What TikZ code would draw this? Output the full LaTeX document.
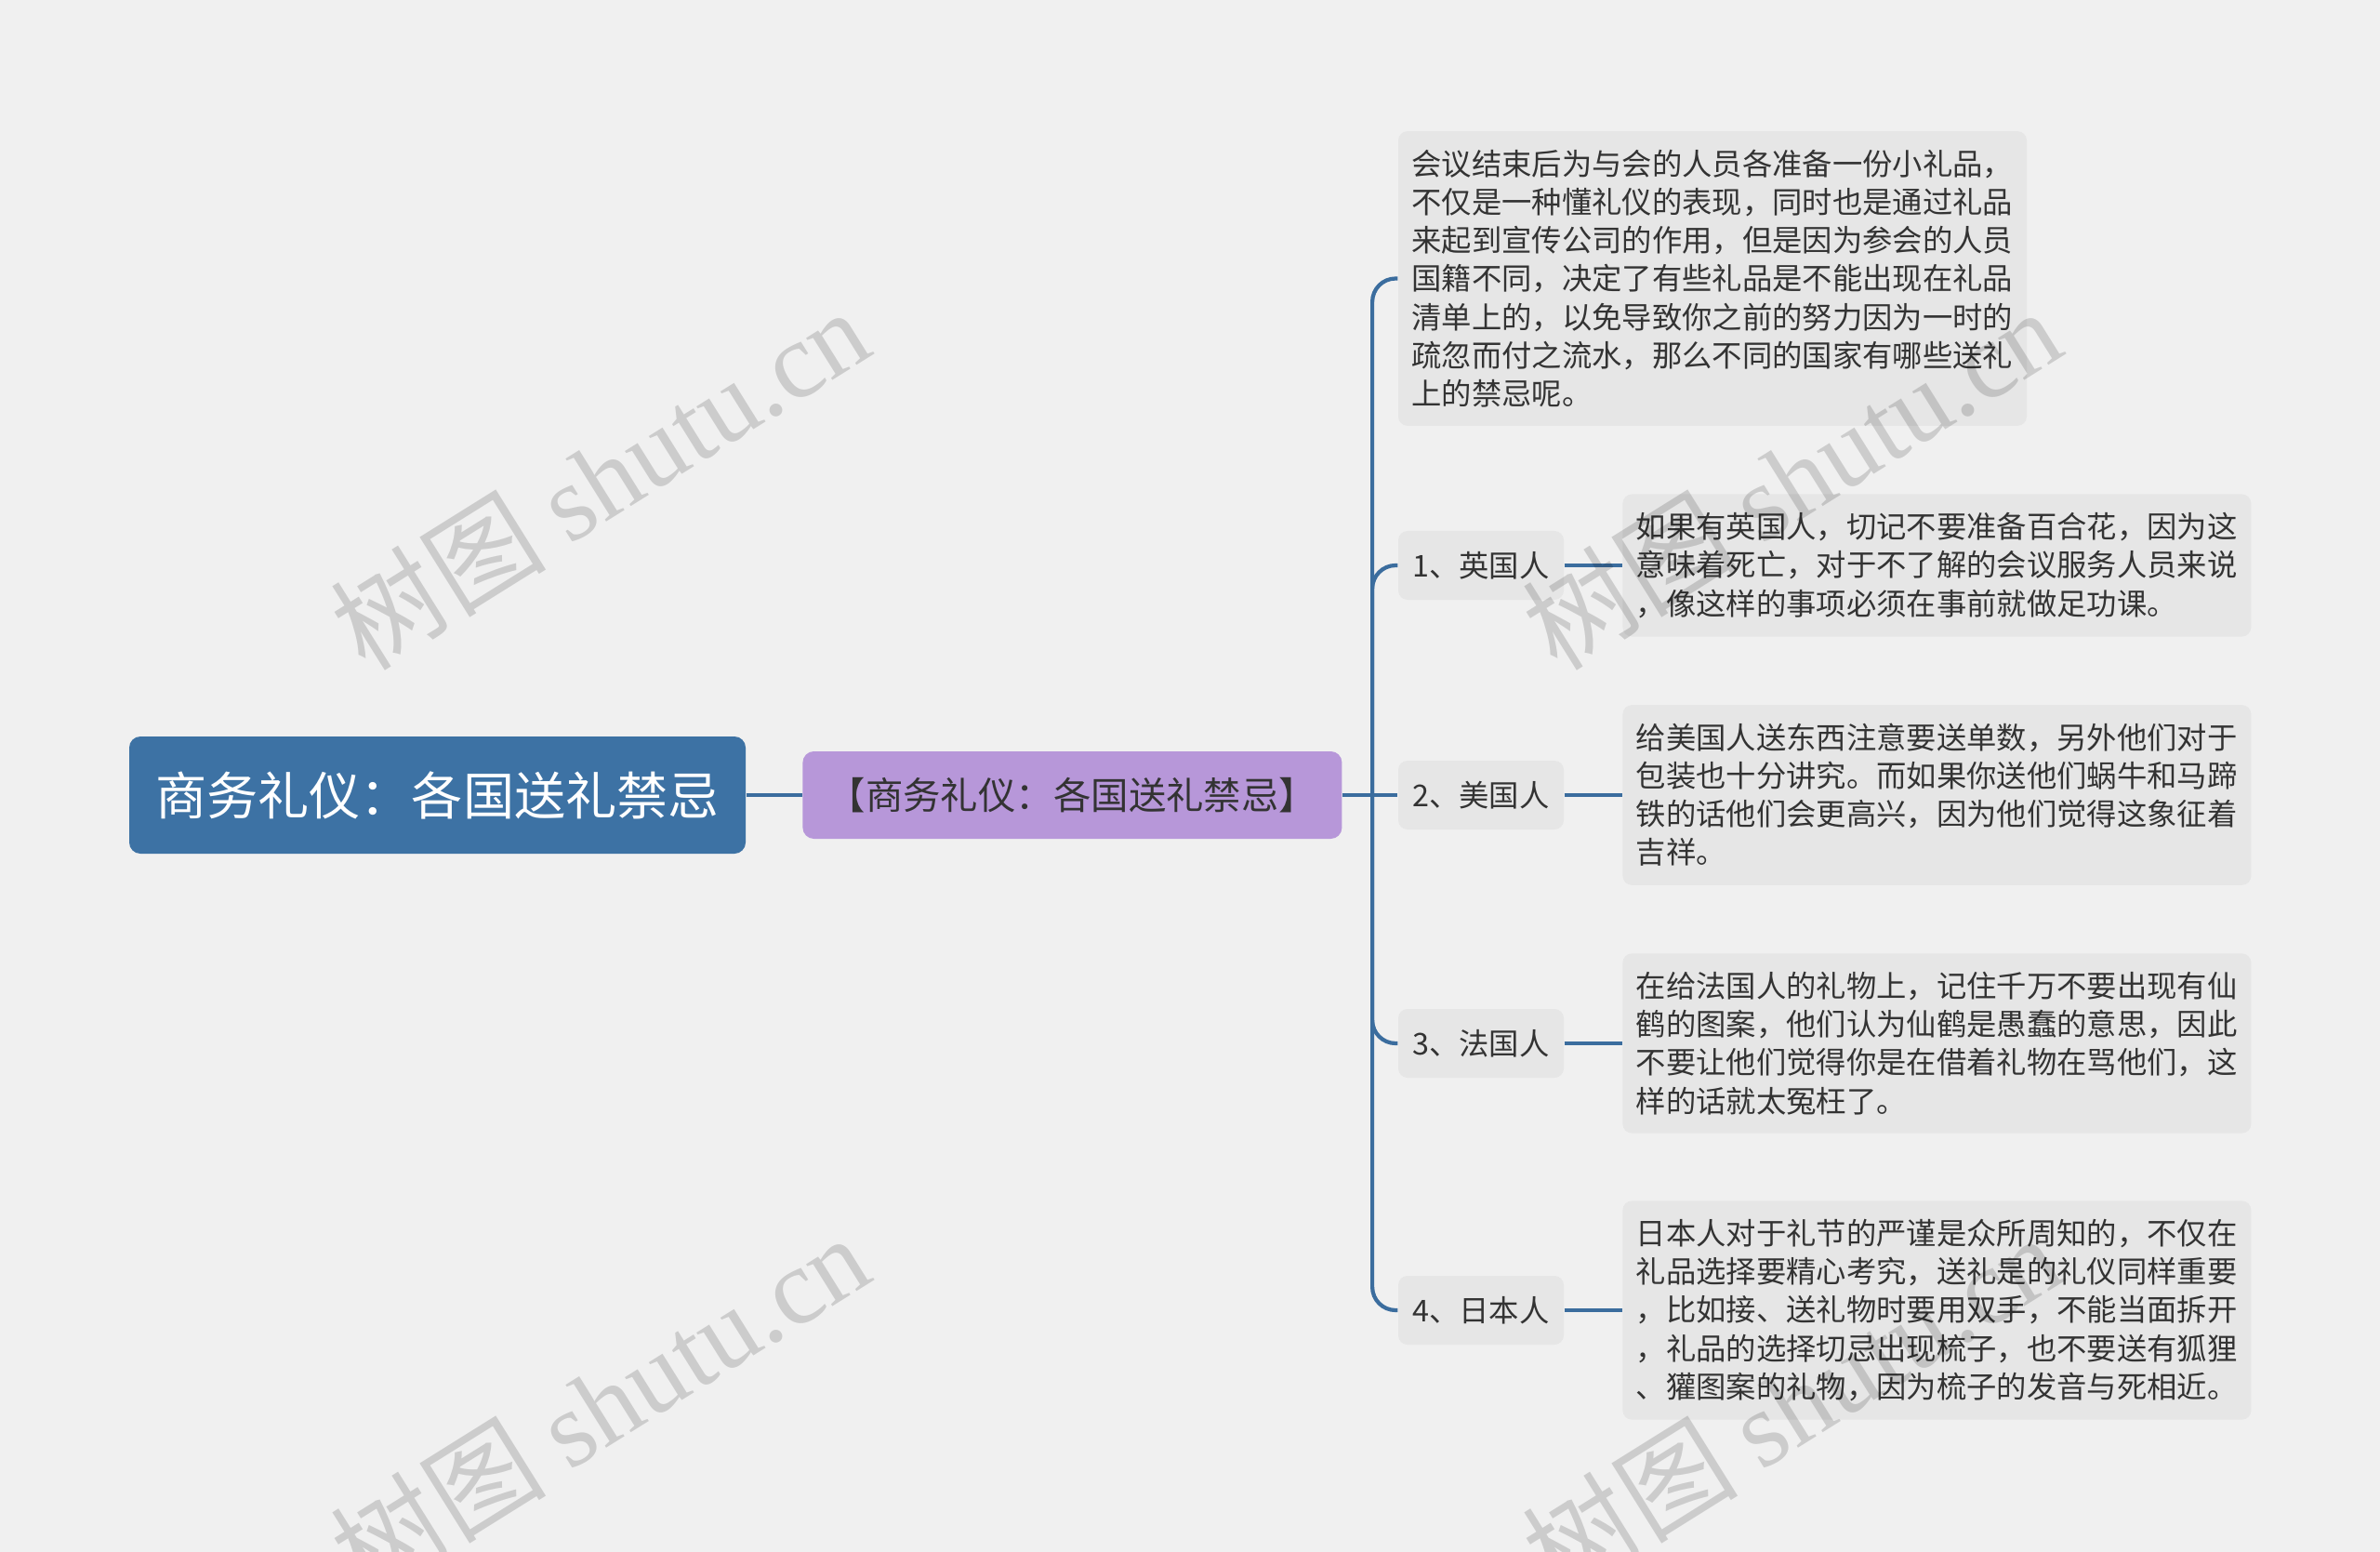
\documentclass[tikz,border=0pt]{standalone}
\usepackage{fontspec}
\setmainfont{Noto Sans CJK SC}
\newfontfamily\wmlatin{Liberation Serif}
\usepackage{tikz}
\usetikzlibrary{positioning}
\definecolor{PageGray}{HTML}{F0F0F0}
\definecolor{RootBlue}{HTML}{3D72A4}
\definecolor{SubPurple}{HTML}{B797D9}
\definecolor{LeafGray}{HTML}{E6E6E6}
\definecolor{LineBlue}{HTML}{3B6D9E}
\definecolor{TextDark}{HTML}{333333}

\begin{document}
\begin{tikzpicture}[
    % 各级节点样式
    rootbox/.style={fill=RootBlue, rounded corners=1.2mm, text=white, font=\fontsize{15.7}{18}\selectfont, minimum width=6.63cm, minimum height=1.26cm, inner sep=0pt},
    subbox/.style={fill=SubPurple, rounded corners=1.2mm, text=TextDark, font=\fontsize{11.5}{14}\selectfont, minimum width=5.8cm, minimum height=0.94cm, inner sep=0pt},
    labelbox/.style={fill=LeafGray, rounded corners=1mm, text=TextDark, font=\fontsize{9.2}{11.7}\selectfont, minimum width=1.78cm, minimum height=0.74cm, inner sep=0pt},
    leafbox/.style={fill=LeafGray, rounded corners=1mm, text=TextDark, font=\fontsize{9.2}{11.7}\selectfont, text width=6.47cm, align=left, inner xsep=0.145cm, inner ysep=0.2cm},
    conn/.style={draw=LineBlue, line width=1.2pt, rounded corners=2.5mm},
    wmark/.style={text=black, text opacity=0.15, rotate=32, font=\fontsize{33}{38}\selectfont}
]
% 背景与边界
\fill[PageGray] (0,0) rectangle (25.6,-16.69);
\useasboundingbox (0,0) rectangle (25.6,-16.69);

% 中心主题与二级主题
\node[rootbox] (root) at (4.705,-8.55) {商务礼仪：各国送礼禁忌};
\node[subbox, right=0.6cm of root] (sub) {【商务礼仪：各国送礼禁忌】};
\coordinate[right=0.32cm of sub.east] (trunk);

% 引言
\node[leafbox] (intro) at (18.42,-2.995) {会议结束后为与会的人员各准备一份小礼品，\\不仅是一种懂礼仪的表现，同时也是通过礼品\\来起到宣传公司的作用，但是因为参会的人员\\国籍不同，决定了有些礼品是不能出现在礼品\\清单上的，以免导致你之前的努力因为一时的\\疏忽而付之流水，那么不同的国家有哪些送礼\\上的禁忌呢。};

% 各国
\node[labelbox] (uk) at (15.93,-6.08) {1、英国人};
\node[labelbox] (us) at (15.93,-8.55) {2、美国人};
\node[labelbox] (fr) at (15.93,-11.22) {3、法国人};
\node[labelbox] (jp) at (15.93,-14.09) {4、日本人};

\node[leafbox, right=0.62cm of uk] (ukText) {如果有英国人，切记不要准备百合花，因为这\\意味着死亡，对于不了解的会议服务人员来说\\，像这样的事项必须在事前就做足功课。};
\node[leafbox, right=0.62cm of us] (usText) {给美国人送东西注意要送单数，另外他们对于\\包装也十分讲究。而如果你送他们蜗牛和马蹄\\铁的话他们会更高兴，因为他们觉得这象征着\\吉祥。};
\node[leafbox, right=0.62cm of fr] (frText) {在给法国人的礼物上，记住千万不要出现有仙\\鹤的图案，他们认为仙鹤是愚蠢的意思，因此\\不要让他们觉得你是在借着礼物在骂他们，这\\样的话就太冤枉了。};
\node[leafbox, right=0.62cm of jp] (jpText) {日本人对于礼节的严谨是众所周知的，不仅在\\礼品选择要精心考究，送礼是的礼仪同样重要\\，比如接、送礼物时要用双手，不能当面拆开\\，礼品的选择切忌出现梳子，也不要送有狐狸\\、獾图案的礼物，因为梳子的发音与死相近。};

% 连线
\draw[conn] (root) -- (sub);
\draw[conn] (sub.east) -- (trunk);
\draw[conn] (trunk) |- (intro.west);
\draw[conn] (trunk) |- (uk.west);
\draw[conn] (trunk) -- (us.west);
\draw[conn] (trunk) |- (fr.west);
\draw[conn] (trunk) |- (jp.west);
\draw[conn] (uk) -- (ukText);
\draw[conn] (us) -- (usText);
\draw[conn] (fr) -- (frText);
\draw[conn] (jp) -- (jpText);

% 水印
\foreach \wx/\wy [count=\i] in {6.45/-5.14, 19.27/-5.14, 6.45/-15.10, 19.27/-15.10}
  \node[wmark] (wm\i) at (\wx,\wy) {树图 {\wmlatin shutu.cn}};
\end{tikzpicture}
\end{document}
